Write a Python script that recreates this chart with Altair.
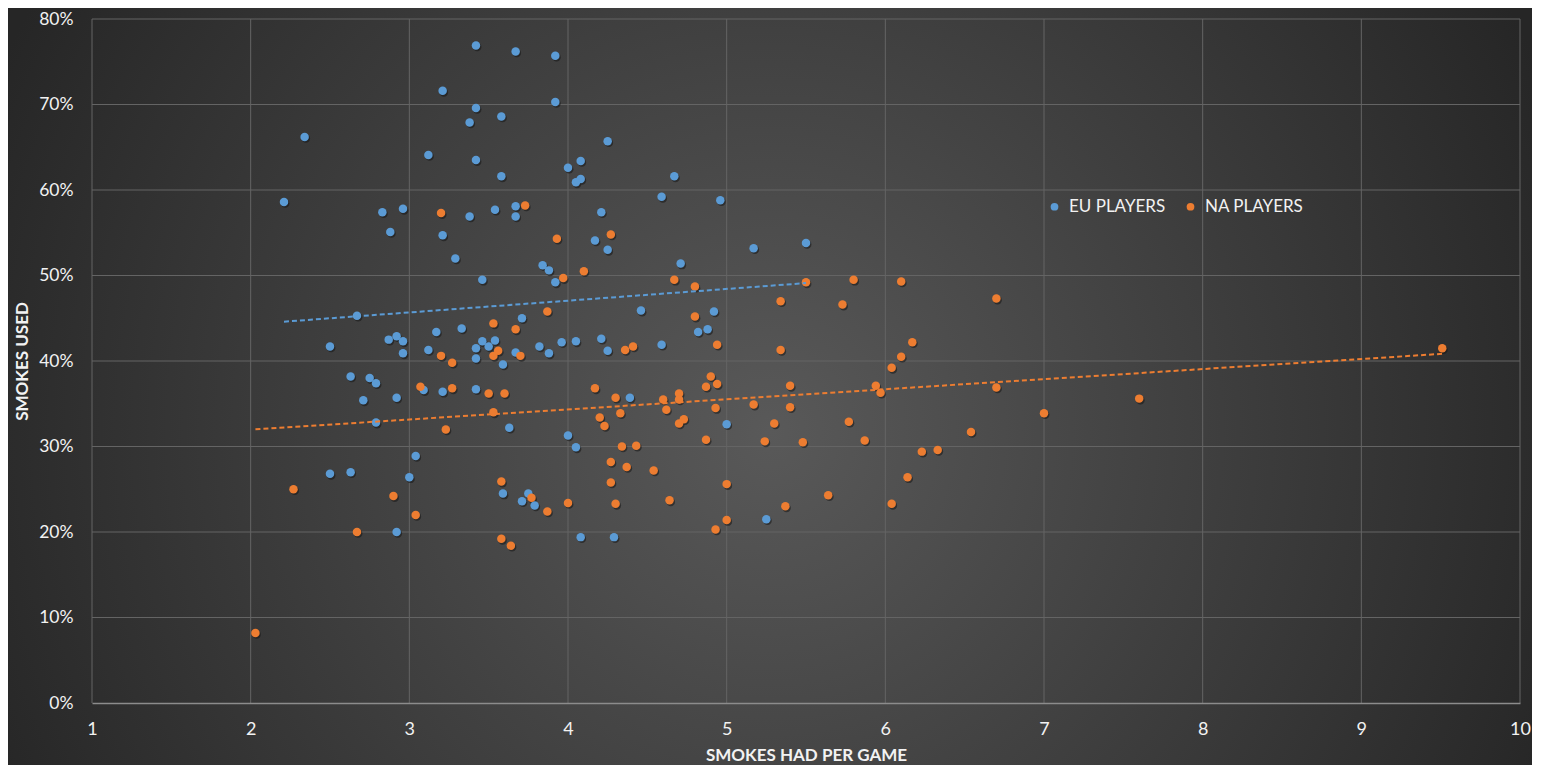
import altair as alt
import pandas as pd

# ---------------- data ----------------
series_names = ["EU PLAYERS", "NA PLAYERS"]
series_colors = ["#5B9BD5", "#ED7D31"]

x_ticks = [1, 2, 3, 4, 5, 6, 7, 8, 9, 10]
y_ticks = [0.0, 0.1, 0.2, 0.3, 0.4, 0.5, 0.6, 0.7, 0.8]

eu_x = [3.42, 3.67, 3.92, 3.21, 3.42, 3.92, 3.38, 3.58, 2.34, 4.25,
        3.12, 3.42, 4.08, 4.00, 3.58, 4.08, 4.05, 4.67, 4.59, 4.96,
        2.21, 2.83, 2.96, 3.38, 3.54, 3.67, 3.67, 4.21, 2.88, 3.21,
        4.17, 4.25, 5.17, 5.50, 3.29, 3.84, 3.88, 4.71, 3.92, 3.46,
        2.67, 2.50, 2.87, 2.92, 2.96, 2.96, 3.17, 3.33, 3.12, 3.42,
        3.46, 3.50, 3.54, 3.42, 3.59, 2.63, 2.75, 2.79, 2.71, 2.92,
        3.09, 3.21, 3.42, 2.79, 3.04, 2.50, 2.63, 3.00, 2.92, 3.59,
        3.71, 4.46, 4.92, 4.82, 4.88, 3.67, 3.82, 3.88, 3.96, 4.05,
        4.21, 4.25, 4.59, 4.39, 3.63, 5.00, 4.00, 4.05, 3.75, 3.71,
        3.79, 5.25, 4.08, 4.29]
eu_y = [76.9, 76.2, 75.7, 71.6, 69.6, 70.3, 67.9, 68.6, 66.2, 65.7,
        64.1, 63.5, 63.4, 62.6, 61.6, 61.3, 60.9, 61.6, 59.2, 58.8,
        58.6, 57.4, 57.8, 56.9, 57.7, 58.1, 56.9, 57.4, 55.1, 54.7,
        54.1, 53.0, 53.2, 53.8, 52.0, 51.2, 50.6, 51.4, 49.2, 49.5,
        45.3, 41.7, 42.5, 42.9, 42.3, 40.9, 43.4, 43.8, 41.3, 41.5,
        42.3, 41.7, 42.4, 40.3, 39.6, 38.2, 38.0, 37.4, 35.4, 35.7,
        36.6, 36.4, 36.7, 32.8, 28.9, 26.8, 27.0, 26.4, 20.0, 24.5,
        45.0, 45.9, 45.8, 43.4, 43.7, 41.0, 41.7, 40.9, 42.2, 42.3,
        42.6, 41.2, 41.9, 35.7, 32.2, 32.6, 31.3, 29.9, 24.5, 23.6,
        23.1, 21.5, 19.4, 19.4]

na_x = [2.03, 2.27, 2.67, 2.90, 3.04, 3.20, 3.73, 3.93, 4.27, 4.10,
        3.97, 4.67, 4.80, 3.53, 3.20, 3.27, 3.56, 3.53, 3.07, 3.27,
        3.50, 3.53, 3.23, 3.58, 3.58, 5.34, 3.87, 4.80, 3.67, 4.94,
        5.34, 3.70, 4.36, 4.41, 3.60, 4.17, 4.30, 4.90, 4.87, 4.94,
        5.40, 4.60, 4.70, 4.70, 4.62, 4.93, 5.17, 5.40, 4.20, 4.33,
        4.23, 4.73, 4.70, 5.30, 4.34, 4.43, 4.87, 5.24, 5.48, 4.27,
        4.37, 4.54, 4.27, 5.00, 3.77, 3.87, 4.00, 4.30, 4.64, 5.37,
        5.00, 4.93, 3.64, 5.50, 5.80, 6.10, 5.73, 6.70, 6.17, 6.10,
        6.04, 5.94, 5.97, 6.70, 7.00, 5.77, 5.87, 6.54, 6.23, 6.33,
        6.14, 5.64, 6.04, 7.60, 9.51]
na_y = [8.2, 25.0, 20.0, 24.2, 22.0, 57.3, 58.2, 54.3, 54.8, 50.5,
        49.7, 49.5, 48.7, 44.4, 40.6, 39.8, 41.2, 40.6, 37.0, 36.8,
        36.2, 34.0, 32.0, 25.9, 19.2, 47.0, 45.8, 45.2, 43.7, 41.9,
        41.3, 40.6, 41.3, 41.7, 36.2, 36.8, 35.7, 38.2, 37.0, 37.3,
        37.1, 35.5, 36.2, 35.5, 34.3, 34.5, 34.9, 34.6, 33.4, 33.9,
        32.4, 33.2, 32.7, 32.7, 30.0, 30.1, 30.8, 30.6, 30.5, 28.2,
        27.6, 27.2, 25.8, 25.6, 24.0, 22.4, 23.4, 23.3, 23.7, 23.0,
        21.4, 20.3, 18.4, 49.2, 49.5, 49.3, 46.6, 47.3, 42.2, 40.5,
        39.2, 37.1, 36.3, 36.9, 33.9, 32.9, 30.7, 31.7, 29.4, 29.6,
        26.4, 24.3, 23.3, 35.6, 41.5]

df = pd.DataFrame({
    "x": eu_x + na_x,
    "y": [v / 100 for v in eu_y + na_y],
    "series": [series_names[0]] * len(eu_x) + [series_names[1]] * len(na_x),
})

# ---------------- layout / style ----------------
FONT = "Lato"
TXT = "#f2f2f2"
GRID = "#646464"
W, H = 1428, 684
PL, PT, PR, PB = 84, 11, 12, 62

xscale = alt.Scale(domain=[1, 10], nice=False, zero=False)
yscale = alt.Scale(domain=[0, 0.8], nice=False)
cscale = alt.Scale(domain=series_names, range=series_colors)

xaxis = alt.Axis(
    values=x_ticks, grid=False, ticks=False, tickSize=0,
    domain=True, domainColor="#8c8c8c", domainWidth=1.3,
    labelPadding=17, labelFontSize=18, labelColor=TXT, labelFont=FONT,
    labelFlush=False,
    title="SMOKES HAD PER GAME", titleFont=FONT, titleFontSize=17,
    titleFontWeight="bold", titleColor=TXT, titleY=52,
    titleBaseline="middle", zindex=1,
)
yaxis = alt.Axis(
    values=y_ticks, format=".0%", grid=False, ticks=False, tickSize=0,
    domain=False, labelPadding=19, labelFontSize=17.5, labelColor=TXT,
    labelFont=FONT, labelFlush=False,
    title="SMOKES USED", titleFont=FONT, titleFontSize=17,
    titleFontWeight="bold", titleColor=TXT, titleX=-70, titleY=H / 2,
    titleAngle=270, titleAlign="center", titleBaseline="middle",
    zindex=1,
)

bg = alt.Chart(alt.Data(values=[{"k": 1}])).mark_rect(
    fill={
        "gradient": "radial",
        "x1": 0.5, "y1": 0.53, "r1": 0,
        "x2": 0.5, "y2": 0.53, "r2": 0.56,
        "stops": [
            {"offset": 0, "color": "#595959"},
            {"offset": 1, "color": "#262626"},
        ],
    },
).encode(
    x=alt.value(-PL), x2=alt.value(W + PR),
    y=alt.value(-PT), y2=alt.value(H + PB),
)

xgrid = alt.Chart(pd.DataFrame({"v": x_ticks})).mark_rule(
    color=GRID, strokeWidth=1
).encode(x=alt.X("v:Q", scale=xscale, axis=xaxis))

ygrid = alt.Chart(pd.DataFrame({"v": y_ticks[1:]})).mark_rule(
    color=GRID, strokeWidth=1
).encode(y=alt.Y("v:Q", scale=yscale, axis=yaxis))

base = alt.Chart(df)

shadow = base.mark_circle(
    size=72, color="#151515", opacity=0.55, xOffset=1.2, yOffset=1.6
).encode(
    x=alt.X("x:Q", scale=xscale, axis=xaxis),
    y=alt.Y("y:Q", scale=yscale, axis=yaxis),
)

points = base.mark_circle(size=72, opacity=1).encode(
    x=alt.X("x:Q", scale=xscale, axis=xaxis),
    y=alt.Y("y:Q", scale=yscale, axis=yaxis),
    color=alt.Color(
        "series:N", scale=cscale,
        legend=alt.Legend(
            title=None, orient="none", legendX=954, legendY=179,
            direction="horizontal", symbolType="circle", symbolSize=60,
            symbolStrokeWidth=0, labelFontSize=17, labelColor=TXT,
            labelFont=FONT, labelOffset=6, columnPadding=16, padding=0,
        ),
    ),
)

trend = base.transform_regression(
    "x", "y", groupby=["series"]
).mark_line(strokeDash=[5, 3], strokeWidth=2).encode(
    x=alt.X("x:Q", scale=xscale, axis=xaxis),
    y=alt.Y("y:Q", scale=yscale, axis=yaxis),
    color=alt.Color("series:N", scale=cscale, legend=None),
)

chart = alt.layer(bg, xgrid, ygrid, shadow, points, trend).properties(
    width=W, height=H,
    padding={"left": PL, "top": PT, "right": PR, "bottom": PB},
    autosize=alt.AutoSizeParams(type="none"),
    background="#2e2e2e",
).configure_view(stroke=None)

chart.save("out.html", embed_options={"renderer": "svg", "actions": False})
